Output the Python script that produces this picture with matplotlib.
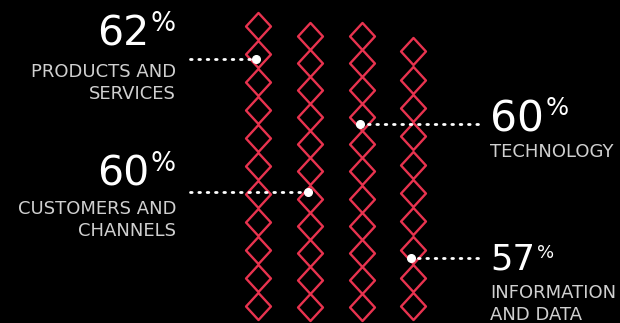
import matplotlib
matplotlib.use("Agg")
import matplotlib.pyplot as plt
from matplotlib.path import Path

# data
categories = ["PRODUCTS AND\nSERVICES", "CUSTOMERS AND\nCHANNELS", "TECHNOLOGY", "INFORMATION\nAND DATA"]
values = [62, 60, 60, 57]
counts = [11, 11, 11, 10]
# where the pointer dot sits on each column (share of column height from bottom)
dot_frac = [0.85, 0.43, 0.66, 0.22]

red = "#e8334f"
grey = "#d0d0d0"

plt.rcParams["font.family"] = ["DejaVu Sans"]

fig = plt.figure(figsize=(6.2, 3.23), dpi=100)
fig.patch.set_facecolor("black")
ax = fig.add_axes([0, 0, 1, 1])
ax.set_facecolor("black")
ax.set_xlim(0, 620)
ax.set_ylim(323, 0)
ax.axis("off")

diamond = Path([(0, 1), (0.92, 0), (0, -1), (-0.92, 0), (0, 1)],
               [Path.MOVETO, Path.LINETO, Path.LINETO, Path.LINETO, Path.CLOSEPOLY])

col_x = [258, 310, 362, 413]
base = 320.5
scale = 4.97  # px per percent

dots = []
for i in range(len(values)):
    h = values[i] * scale
    step = h / counts[i]
    ys = [base - step * (k + 0.5) for k in range(counts[i])]
    ax.plot([col_x[i]] * counts[i], ys, linestyle="none", marker=diamond,
            markersize=19.5, markerfacecolor="none", markeredgecolor=red,
            markeredgewidth=1.7)
    dy = base - h * dot_frac[i]
    dots.append((col_x[i] - 2, dy))

# pointer lines
line_ends = [190, 190, 478, 478]
for i, (dx, dy) in enumerate(dots):
    ax.plot([line_ends[i], dx], [dy, dy], color="white", linestyle=(0, (0.6, 2.4)),
            linewidth=2, dash_capstyle="round", zorder=3)
    ax.plot(dx, dy, "o", color="white", markersize=5.5, zorder=4)

renderer = fig.canvas.get_renderer()


def width_px(t):
    bb = t.get_window_extent(renderer=renderer)
    return bb.width


# left labels: right aligned
def left_label(num, right_x, y_base, pct_top, label, fs_num, fs_pct, y_lab):
    p = ax.text(right_x, pct_top, "%", color="white", fontsize=fs_pct,
                ha="right", va="top")
    pw = width_px(p)
    ax.text(right_x - pw - 1, y_base, num, color="white", fontsize=fs_num,
            ha="right", va="baseline")
    ax.text(right_x, y_lab, label, color=grey, fontsize=13, ha="right",
            va="baseline", linespacing=1.3)


left_label(str(values[0]), 176, 46, 11, categories[0], 29.5, 19, 99)
left_label(str(values[1]), 176, 186, 151, categories[1], 29.5, 19, 236)


# right labels: left aligned
def right_label(num, x, y_base, pct_top, label, fs_num, fs_pct, y_lab):
    n = ax.text(x, y_base, num, color="white", fontsize=fs_num, ha="left",
                va="baseline")
    nw = width_px(n)
    ax.text(x + nw + 2, pct_top, "%", color="white", fontsize=fs_pct,
            ha="left", va="top")
    ax.text(x, y_lab, label, color=grey, fontsize=13, ha="left",
            va="baseline", linespacing=1.3)


right_label(str(values[2]), 490, 132, 96, categories[2], 30.5, 17.5, 157)
right_label(str(values[3]), 490, 269, 244, categories[3], 25.5, 13, 320)

fig.savefig("out.png", dpi=100, facecolor="black")
